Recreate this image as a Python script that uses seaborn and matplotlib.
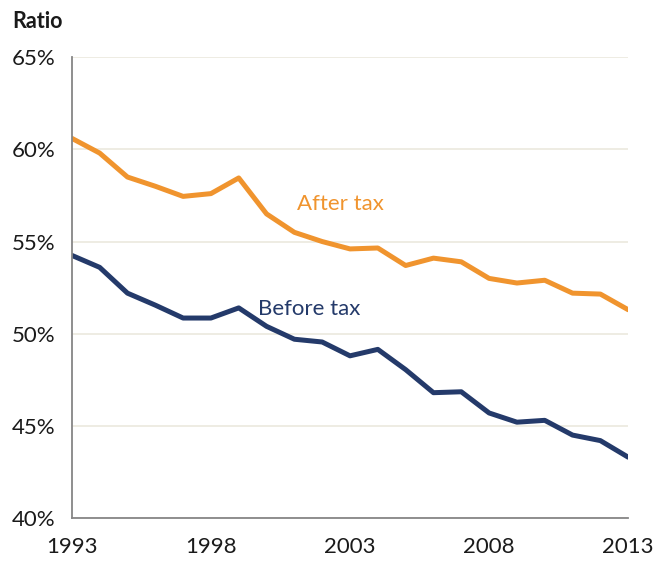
import numpy as np
import pandas as pd
import matplotlib
matplotlib.use("Agg")
import matplotlib.pyplot as plt
import seaborn as sns
from matplotlib.ticker import FuncFormatter

years = list(range(1993, 2014))
after_tax = [60.6, 59.8, 58.5, 58.0, 57.45, 57.6, 58.45, 56.5, 55.5, 55.0, 54.6,
             54.65, 53.7, 54.1, 53.9, 53.0, 52.75, 52.9, 52.2, 52.15, 51.3]
before_tax = [54.25, 53.6, 52.2, 51.55, 50.85, 50.85, 51.4, 50.4, 49.7, 49.55, 48.8,
              49.15, 48.05, 46.8, 46.85, 45.7, 45.2, 45.3, 44.5, 44.2, 43.3]
series_names = ["After tax", "Before tax"]
y_ticks = [40, 45, 50, 55, 60, 65]
x_ticks = [1993, 1998, 2003, 2008, 2013]

orange = "#F0942E"
navy = "#243A6A"

sns.set_theme(style="white")
plt.rcParams["font.family"] = ["Lato", "DejaVu Sans"]

df = pd.DataFrame({
    "year": years * 2,
    "ratio": after_tax + before_tax,
    "series": [series_names[0]] * len(years) + [series_names[1]] * len(years),
})

fig = plt.figure(figsize=(6.53, 5.61), dpi=100)
ax = fig.add_axes([0.110, 0.0766, 0.852, 0.8214])

sns.lineplot(data=df, x="year", y="ratio", hue="series",
             palette={series_names[0]: orange, series_names[1]: navy},
             linewidth=3.6, legend=False, ax=ax)

ax.set_xlim(1993, 2013)
ax.set_ylim(40, 65)
ax.set_yticks(y_ticks)
ax.set_xticks(x_ticks)
ax.yaxis.set_major_formatter(FuncFormatter(lambda v, _: f"{int(v)}%"))
ax.set_xlabel("")
ax.set_ylabel("")

ax.grid(axis="y", color="#EDEBE0", linewidth=1.3)
ax.set_axisbelow(True)
for side in ["top", "right"]:
    ax.spines[side].set_visible(False)
for side in ["left", "bottom"]:
    ax.spines[side].set_color("#868686")
    ax.spines[side].set_linewidth(1.3)

ax.tick_params(axis="both", which="major", direction="out", length=7,
               width=1.3, color="#868686", labelsize=16, labelcolor="#1a1a1a")
ax.tick_params(axis="y", pad=5)
ax.tick_params(axis="x", pad=7)

ax.text(2001.1, 57.05, "After tax", color=orange, fontsize=16, ha="left", va="center")
ax.text(1999.7, 51.35, "Before tax", color=navy, fontsize=16, ha="left", va="center")

fig.text(12 / 653, 1 - 22 / 561, "Ratio", fontsize=15.5, fontweight="bold",
         color="#1a1a1a", ha="left", va="center")

fig.savefig("out.png", dpi=100)
